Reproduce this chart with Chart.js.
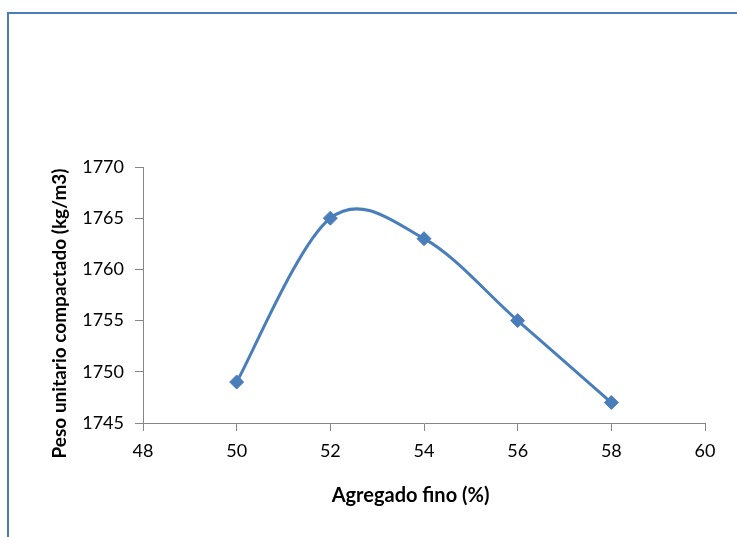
<!DOCTYPE html>
<html>
<head>
<meta charset="utf-8">
<script src="https://cdn.jsdelivr.net/npm/chart.js@4/dist/chart.umd.min.js"></script>
<style>
  html, body { margin: 0; padding: 0; background: #fff; }
  #wrap { position: relative; width: 737px; height: 537px; overflow: hidden; }
  #frame { position: absolute; left: 7px; top: 12px; width: 740px; height: 540px;
           border-top: 2px solid #4a7ebb; border-left: 2px solid #4a7ebb; box-sizing: border-box; }
  canvas { position: absolute; left: 0; top: 0; }
</style>
</head>
<body>
<div id="wrap">
  <div id="frame"></div>
  <canvas id="c" width="737" height="537"></canvas>
</div>
<script>
const agregadoFino = [50, 52, 54, 56, 58];
const pesoUnitario = [1749, 1765, 1763, 1755, 1747];
const xTicks = [48, 50, 52, 54, 56, 58, 60];
const yTicks = [1745, 1750, 1755, 1760, 1765, 1770];
const xTitle = 'Agregado fino (%)';
const yTitle = 'Peso unitario compactado (kg/m3)';

const blue = '#4a7ebb';
const axisGray = '#868686';
const FONT = 'Lato, "Open Sans", sans-serif';

// Excel-like smoothing: Catmull-Rom style control points on the library's pixel positions
const smoothPlugin = {
  id: 'excelSmooth',
  beforeDatasetDraw(chart, args) {
    const meta = args.meta;
    const line = meta.dataset;
    if (!line) return;
    line.updateControlPoints(chart.chartArea, 'x');
    const pts = meta.data;
    const n = pts.length;
    const k = 1 / 6;
    for (let i = 0; i < n; i++) {
      const a = pts[Math.max(i - 1, 0)];
      const b = pts[Math.min(i + 1, n - 1)];
      const tx = (b.x - a.x) * k, ty = (b.y - a.y) * k;
      pts[i].cp1x = pts[i].x - tx; pts[i].cp1y = pts[i].y - ty;
      pts[i].cp2x = pts[i].x + tx; pts[i].cp2y = pts[i].y + ty;
    }
    line._path = undefined;
  }
};

const titlesPlugin = {
  id: 'titles',
  afterDraw(chart) {
    const ctx = chart.ctx;
    const a = chart.chartArea;
    ctx.save();
    ctx.fillStyle = '#000';
    ctx.textAlign = 'center';
    ctx.textBaseline = 'middle';
    ctx.font = 'bold 20px ' + FONT;
    ctx.fillText(xTitle, a.left + (a.right - a.left) * 0.476, a.bottom + 73);
    ctx.font = 'bold 19px ' + FONT;
    ctx.translate(a.left - 83, a.top + (a.bottom - a.top) * 0.572);
    ctx.rotate(-Math.PI / 2);
    ctx.fillText(yTitle, 0, 0);
    ctx.restore();
  }
};

new Chart(document.getElementById('c'), {
  type: 'line',
  data: {
    datasets: [{
      data: agregadoFino.map((x, i) => ({ x: x, y: pesoUnitario[i] })),
      borderColor: blue,
      backgroundColor: blue,
      borderWidth: 3,
      tension: 0.4,
      capBezierPoints: false,
      pointStyle: 'rectRot',
      pointRadius: 7,
      pointBorderWidth: 1,
      pointHoverRadius: 7,
      fill: false
    }]
  },
  options: {
    responsive: false,
    animation: false,
    devicePixelRatio: 1,
    layout: { padding: { left: 0, right: 32, top: 167, bottom: 0 } },
    plugins: { legend: { display: false }, tooltip: { enabled: false } },
    scales: {
      x: {
        type: 'linear',
        min: xTicks[0], max: xTicks[xTicks.length - 1],
        afterBuildTicks(s) { s.ticks = xTicks.map(v => ({ value: v })); },
        afterFit(s) { s.height = 114; },
        grid: { drawOnChartArea: false, drawTicks: true, tickLength: 8, color: axisGray },
        border: { color: axisGray, width: 1 },
        ticks: { color: '#000', font: { family: FONT, size: 18 }, padding: 9, callback: v => String(v) }
      },
      y: {
        min: yTicks[0], max: yTicks[yTicks.length - 1],
        afterBuildTicks(s) { s.ticks = yTicks.map(v => ({ value: v })); },
        afterFit(s) { s.width = 143; },
        grid: { drawOnChartArea: false, drawTicks: true, tickLength: 8, color: axisGray },
        border: { color: axisGray, width: 1 },
        ticks: { color: '#000', font: { family: FONT, size: 18 }, padding: 11, callback: v => String(v) }
      }
    }
  },
  plugins: [smoothPlugin, titlesPlugin]
});
</script>
</body>
</html>
